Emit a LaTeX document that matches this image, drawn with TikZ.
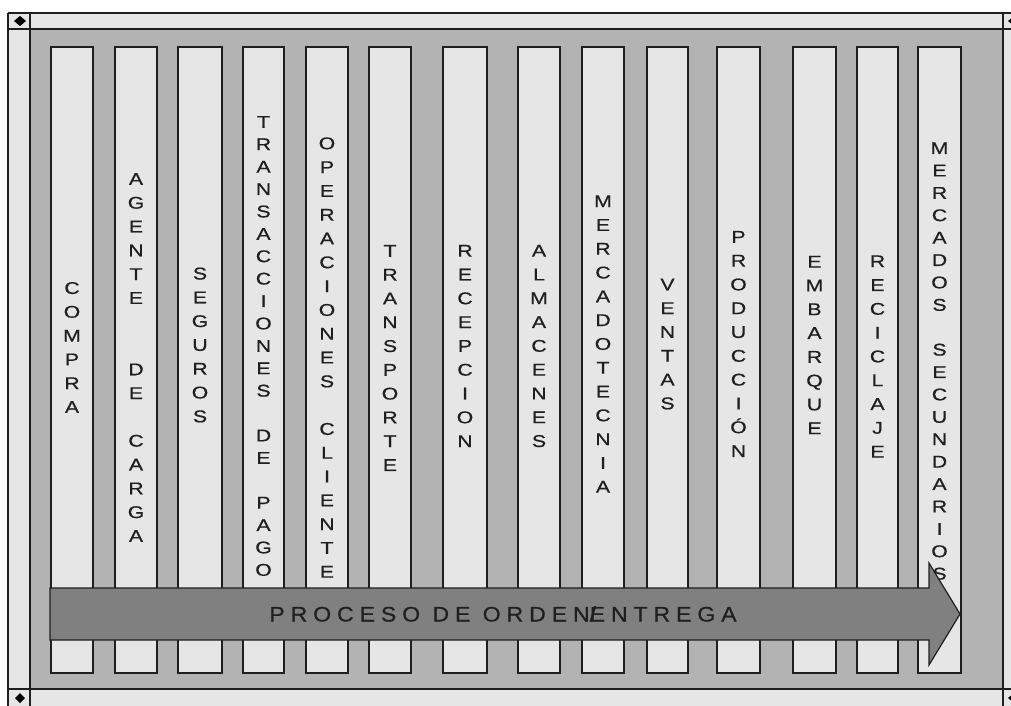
\documentclass[tikz,border=0pt]{standalone}
\usepackage{fontspec}
\setmainfont{Liberation Sans}
\newfontfamily\colfont[FakeStretch=1.25,FakeBold=0.6]{Liberation Sans}
\newfontfamily\flowfont[FakeStretch=1.1,LetterSpace=28,FakeBold=0.6]{Liberation Sans}
\usepackage{xcolor}
\usepackage{tikz}

\definecolor{paneLight}{HTML}{E6E6E6}
\definecolor{paneGray}{HTML}{B3B3B3}
\definecolor{flowGray}{HTML}{808080}
\definecolor{edgeDark}{HTML}{1F1F1F}

\tikzset{
  frame/.style={draw=edgeDark, line width=1.2pt},
  column/.style={draw=edgeDark, fill=paneLight, line width=1.3pt, minimum height=626pt, inner sep=0pt},
  letters/.style={align=center, inner sep=0pt, text=edgeDark},
  flowtext/.style={inner sep=0pt, text=edgeDark, font=\flowfont\fontsize{21}{21}\selectfont},
}

% column: left, right, label centre, line pitch, name, letters
\newcommand{\stagecol}[6]{%
  \node[column, minimum width=#2pt-#1pt] (col#5) at ({(#1+#2)/2},360) {};
  \node[letters, font=\colfont\fontsize{17}{#4}\selectfont] (lab#5) at ({(#1+#2)/2},#3) {#6};
}

\begin{document}
\begin{tikzpicture}[x=1pt, y=-1pt]
    \useasboundingbox (0,0) rectangle (1011,706);
    \clip (0,0) rectangle (1011,706);

    % Frame
    \fill[paneLight] (8,13) rectangle (1030,720);
    \fill[paneGray] (30,29) rectangle (1003,689);
    \draw[frame] (8,13) -- (8,720) (30,13) -- (30,720) (1003,13) -- (1003,720);
    \draw[frame] (8,13) -- (1030,13) (8,29) -- (1030,29) (8,689) -- (1030,689);
    \fill[black] (14,21) -- (20,16) -- (26,21) -- (20,26) -- cycle;
    \fill[black] (15,698) -- (20,693) -- (25,698) -- (20,703) -- cycle;
    \fill[black] (1008,21) -- (1014,16) -- (1020,21) -- (1014,26) -- cycle;
    \fill[black] (1008,698) -- (1014,693) -- (1020,698) -- (1014,703) -- cycle;

    % Columns with their vertical labels
    \stagecol{51}{93}{347.5}{23.8}{compra}{C\\O\\M\\P\\R\\A}
    \stagecol{115}{157}{357.5}{23.8}{agente}{A\\G\\E\\N\\T\\E\\~\\~\\D\\E\\~\\C\\A\\R\\G\\A}
    \stagecol{178}{222}{345}{23.8}{seguros}{S\\E\\G\\U\\R\\O\\S}
    \stagecol{243}{284}{346}{22.4}{pago}{T\\R\\A\\N\\S\\A\\C\\C\\I\\O\\N\\E\\S\\~\\D\\E\\~\\P\\A\\G\\O}
    \stagecol{306}{348}{357.5}{23.8}{cliente}{O\\P\\E\\R\\A\\C\\I\\O\\N\\E\\S\\~\\C\\L\\I\\E\\N\\T\\E}
    \stagecol{369}{411}{358}{23.8}{transporte}{T\\R\\A\\N\\S\\P\\O\\R\\T\\E}
    \stagecol{443}{487}{346}{23.8}{recepcion}{R\\E\\C\\E\\P\\C\\I\\O\\N}
    \stagecol{518}{560}{346}{23.8}{almacenes}{A\\L\\M\\A\\C\\E\\N\\E\\S}
    \stagecol{582}{624}{344}{23.8}{mercadotecnia}{M\\E\\R\\C\\A\\D\\O\\T\\E\\C\\N\\I\\A}
    \stagecol{647}{688}{344}{23.8}{ventas}{V\\E\\N\\T\\A\\S}
    \stagecol{717}{760}{344}{23.8}{produccion}{P\\R\\O\\D\\U\\C\\C\\I\\Ó\\N}
    \stagecol{793}{836}{345}{23.8}{embarque}{E\\M\\B\\A\\R\\Q\\U\\E}
    \stagecol{857}{898}{356.5}{23.8}{reciclaje}{R\\E\\C\\I\\C\\L\\A\\J\\E}
    \stagecol{918}{961}{361}{22.4}{secundarios}{M\\E\\R\\C\\A\\D\\O\\S\\~\\S\\E\\C\\U\\N\\D\\A\\R\\I\\O\\S}

    % Order to delivery arrow
    \draw[frame, fill=flowGray] (50,588) -- (929,588) -- (929,563) -- (960,614)
        -- (929,665) -- (929,640) -- (50,640) -- cycle;
    \node[flowtext] (flow) at (503,614) {PROCESO DE ORDEN\rlap{/}ENTREGA};
\end{tikzpicture}
\end{document}
